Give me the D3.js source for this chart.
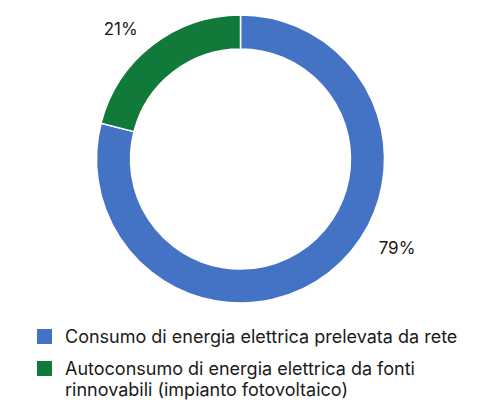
<!DOCTYPE html>
<html lang="it">
<head>
<meta charset="utf-8">
<title>Consumo energia</title>
<script src="https://cdn.jsdelivr.net/npm/d3@7"></script>
<style>
  body { margin: 0; background: #fff; }
  text { font-family: Inter, "Noto Sans", sans-serif; fill: #1a1a1a; }
  .pct { font-size: 17px; }
  .leg { font-size: 18px; }
</style>
</head>
<body>
<script>
  // data
  var categories = ["Consumo di energia elettrica prelevata da rete",
                    "Autoconsumo di energia elettrica da fonti rinnovabili (impianto fotovoltaico)"];
  var values = [79, 21];
  var labels = ["79%", "21%"];
  var legendLines = [["Consumo di energia elettrica prelevata da rete"],
                     ["Autoconsumo di energia elettrica da fonti", "rinnovabili (impianto fotovoltaico)"]];
  var colors = ["#4472c4", "#117a3b"];

  var W = 490, H = 403;
  var cx = 240.5, cy = 159, rOut = 144, rIn = 110;

  var svg = d3.select("body").append("svg")
    .attr("width", W).attr("height", H);

  var pie = d3.pie().sort(null).value(function (d) { return d; });
  var arcs = pie(values);

  var arc = d3.arc().innerRadius(rIn).outerRadius(rOut);

  var g = svg.append("g").attr("transform", "translate(" + cx + "," + cy + ")");
  g.selectAll("path")
    .data(arcs)
    .enter().append("path")
    .attr("d", arc)
    .attr("fill", function (d, i) { return colors[i]; })
    .attr("stroke", "#fff")
    .attr("stroke-width", 1.5);

  // labels outside the ring, nudged the way the original sits
  var nudge = [-22.6, -4.8]; // degrees
  var labR = [180, 177];
  g.selectAll("text.pct")
    .data(arcs)
    .enter().append("text")
    .attr("class", "pct")
    .attr("text-anchor", "middle")
    .attr("dominant-baseline", "central")
    .attr("x", function (d, i) {
      var a = (d.startAngle + d.endAngle) / 2 + nudge[i] * Math.PI / 180;
      return Math.sin(a) * labR[i];
    })
    .attr("y", function (d, i) {
      var a = (d.startAngle + d.endAngle) / 2 + nudge[i] * Math.PI / 180;
      return -Math.cos(a) * labR[i];
    })
    .text(function (d, i) { return labels[i]; });

  // legend
  var leg = svg.append("g").attr("transform", "translate(37,329)");
  var item = leg.selectAll("g")
    .data(categories)
    .enter().append("g")
    .attr("transform", function (d, i) { return "translate(0," + (i * 32) + ")"; });
  item.append("rect")
    .attr("width", 15).attr("height", 15)
    .attr("fill", function (d, i) { return colors[i]; });
  item.append("text")
    .attr("class", "leg")
    .selectAll("tspan")
    .data(function (d, i) { return legendLines[i]; })
    .enter().append("tspan")
    .attr("x", 28)
    .attr("y", function (d, j) { return 14 + j * 20.5; })
    .text(function (d) { return d; });
</script>
</body>
</html>
